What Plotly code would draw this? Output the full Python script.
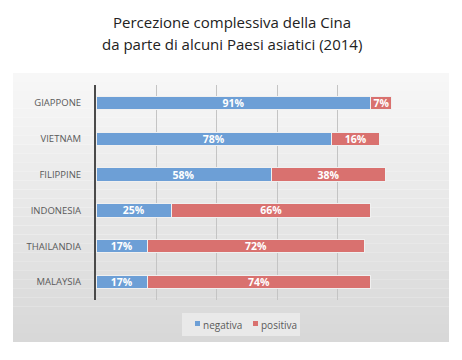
import plotly.graph_objects as go

countries = ["GIAPPONE", "VIETNAM", "FILIPPINE", "INDONESIA", "THAILANDIA", "MALAYSIA"]
negativa = [91, 78, 58, 25, 17, 17]
positiva = [7, 16, 38, 66, 72, 74]
x_ticks = [0, 20, 40, 60, 80, 100]
title_lines = ["Percezione complessiva della Cina", "da parte di alcuni Paesi asiatici (2014)"]
series_names = ["negativa", "positiva"]
series_colors = ["#6d9fd6", "#d9716f"]

W, H = 462, 360
L, R, T, B = 96, 64, 85, 60
pw, ph = W - L - R, H - T - B

def px_x(x):
    return (x - L) / pw

def px_y(y):
    return (H - B - y) / ph

fig = go.Figure()
for name, vals, col in zip(series_names, [negativa, positiva], series_colors):
    fig.add_trace(go.Bar(
        y=countries, x=vals, name=name, orientation="h",
        marker=dict(color=col, line=dict(color="#f0f0f0", width=1)),
        texttemplate="%{x}%", textposition="inside", insidetextanchor="middle",
        textfont=dict(color="white", size=10.5, family="Open Sans", weight="bold"), textangle=0,
        constraintext="none", cliponaxis=False, showlegend=False,
    ))

# gradient panel background
shapes = []
n = 30
top, bot = 73, 342
c0, c1 = (247, 247, 247), (216, 216, 216)
for i in range(n):
    y0 = top + (bot - top) * i / n
    y1 = top + (bot - top) * (i + 1) / n
    t = i / (n - 1)
    c = tuple(int(round(c0[k] + (c1[k] - c0[k]) * t)) for k in range(3))
    shapes.append(dict(type="rect", xref="paper", yref="paper",
                       x0=px_x(13), x1=px_x(449), y0=px_y(y1), y1=px_y(y0),
                       fillcolor="rgb(%d,%d,%d)" % c, line=dict(width=0), layer="below"))

# legend box (drawn)
shapes.append(dict(type="rect", xref="paper", yref="paper",
                   x0=px_x(182), x1=px_x(300), y0=px_y(336), y1=px_y(313),
                   fillcolor="#e9e9e9", line=dict(width=0), layer="below"))
annotations = []
leg_sq_x = [195, 253]
leg_tx_x = [201, 259]
for name, col, sx, tx in zip(series_names, series_colors, leg_sq_x, leg_tx_x):
    shapes.append(dict(type="rect", xref="paper", yref="paper",
                       x0=px_x(sx), x1=px_x(sx + 5), y0=px_y(326), y1=px_y(321),
                       fillcolor=col, line=dict(width=0)))
    annotations.append(dict(text=name, xref="paper", yref="paper", x=px_x(tx), y=px_y(324.5),
                            xanchor="left", yanchor="middle", showarrow=False,
                            font=dict(family="Open Sans", size=10, color="#5a5a5a")))

for line, yc in zip(title_lines, [22, 44]):
    annotations.append(dict(text=line, xref="paper", yref="paper", x=px_x(232), y=px_y(yc),
                            xanchor="center", yanchor="middle", showarrow=False,
                            font=dict(family="Open Sans", size=15, color="#222222", weight=500)))

fig.update_layout(
    width=W, height=H,
    margin=dict(l=L, r=R, t=T, b=B, autoexpand=False),
    paper_bgcolor="white", plot_bgcolor="rgba(0,0,0,0)",
    barmode="stack", bargap=0.63,
    shapes=shapes, annotations=annotations,
    xaxis=dict(range=[0, 100], tickvals=x_ticks, showticklabels=False, showgrid=True,
               gridcolor="#c4c4c4", gridwidth=1, zeroline=False, fixedrange=True,
               automargin=False),
    yaxis=dict(categoryorder="array", categoryarray=countries, autorange="reversed",
               showline=True, linecolor="#4a4a4a", linewidth=2, ticks="",
               ticklabelstandoff=11, automargin=False, fixedrange=True,
               tickfont=dict(family="Open Sans", size=9.5, color="#5a5a5a")),
    showlegend=False,
)

fig.write_html("out.html", config={"displayModeBar": False},
               post_script="document.body.style.margin='0';")
